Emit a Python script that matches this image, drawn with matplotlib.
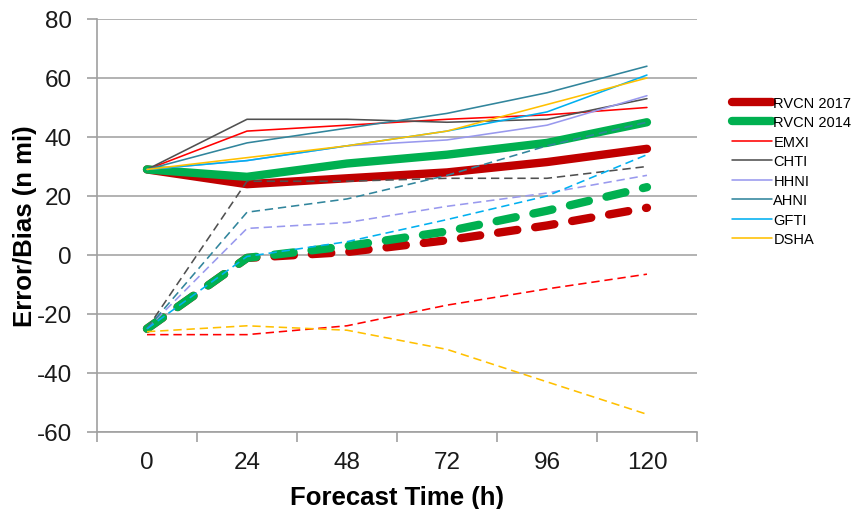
import matplotlib.pyplot as plt
import numpy as np

plt.rcParams['font.family'] = ['Liberation Sans', 'DejaVu Sans']
plt.rcParams['lines.scale_dashes'] = False
plt.rcParams['axes.unicode_minus'] = False

# forecast hours
hours = [0, 24, 48, 72, 96, 120]

# track error (solid lines), n mi
err_rvcn2017 = [29, 24, 26, 28, 31.5, 36]
err_rvcn2014 = [29, 26.5, 31, 34, 38, 45]
err_emxi = [29, 42, 44, 46, 47.5, 50]
err_chti = [29, 46, 46, 45, 46, 53]
err_hhni = [29, 32, 37, 39, 44, 54]
err_ahni = [29, 38, 43, 48, 55, 64]
err_gfti = [29, 32, 37, 42, 48.5, 61]
err_dsha = [29, 33, 37, 42, 51, 60]

# bias (dashed lines), n mi
bias_rvcn2017 = [-25, -1, 1, 5, 10, 16]
bias_rvcn2014 = [-25, -1, 3, 8, 15, 23]
bias_emxi = [-27, -27, -24, -17, -11.5, -6.5]
bias_chti = [-25, 25, 25, 26, 26, 30]
bias_hhni = [-25, 9, 11, 16.5, 21, 27]
bias_ahni = [-25, 14.5, 19, 27, 37, 45]
bias_gfti = [-25, -0.5, 4.5, 12, 20, 34]
bias_dsha = [-26, -24, -25.5, -32, -43, -54]

models = ['RVCN 2017', 'RVCN 2014', 'EMXI', 'CHTI', 'HHNI', 'AHNI', 'GFTI', 'DSHA']
colors = ['#C00000', '#00B050', '#FF0000', '#505050', '#9999EE', '#31859C', '#00B0F0', '#FFC000']
errors = [err_rvcn2017, err_rvcn2014, err_emxi, err_chti, err_hhni, err_ahni, err_gfti, err_dsha]
biases = [bias_rvcn2017, bias_rvcn2014, bias_emxi, bias_chti, bias_hhni, bias_ahni, bias_gfti, bias_dsha]

fig = plt.figure(figsize=(8.63, 5.10), dpi=100)
ax = fig.add_axes([0.1124, 0.151, 0.6952, 0.8098])

handles = []
for i in range(len(models)):
    thick = i < 2
    lw = 6 if thick else 1.15
    z = 2 if thick else 3
    ln, = ax.plot(hours, errors[i], color=colors[i], lw=lw, solid_capstyle='round',
                  solid_joinstyle='round', zorder=z, label=models[i])
    handles.append(ln)
    if thick:
        ax.plot(hours, biases[i], color=colors[i], lw=lw, dashes=(14, 13),
                dash_capstyle='round', zorder=z)
    else:
        ax.plot(hours, biases[i], color=colors[i], lw=lw, dashes=(6, 3.5), zorder=z)

ax.set_xlim(-12, 132)
ax.set_ylim(-60, 80)
ax.set_xticks(hours)
ax.set_xticks(np.arange(-12, 133, 24), minor=True)
ax.tick_params(axis='x', which='major', length=0, labelsize=17.5, pad=14, labelcolor='#1a1a1a')
ax.tick_params(axis='x', which='minor', length=7, color='#A0A0A0', width=1.2)
ax.set_yticks(np.arange(-60, 81, 20))
ax.tick_params(axis='y', length=7, color='#A0A0A0', width=1.2, labelsize=17.5, pad=11,
               labelcolor='#1a1a1a')
ax.grid(axis='y', color='#A6A6A6', lw=1.2)
ax.set_axisbelow(True)
for s in ['top', 'right']:
    ax.spines[s].set_visible(False)
for s in ['left', 'bottom']:
    ax.spines[s].set_color('#A0A0A0')
    ax.spines[s].set_linewidth(1.2)

ax.set_xlabel('Forecast Time (h)', fontsize=18.5, fontweight='bold', labelpad=8)
ax.set_ylabel('Error/Bias (n mi)', fontsize=18.5, fontweight='bold', labelpad=0)

fig.legend(handles=handles, loc='upper left', bbox_to_anchor=(0.842, 0.822),
           frameon=False, fontsize=10.5, handlelength=2.7, handletextpad=0.1,
           labelspacing=0.38, borderaxespad=0)

fig.savefig('out.png', dpi=100)
